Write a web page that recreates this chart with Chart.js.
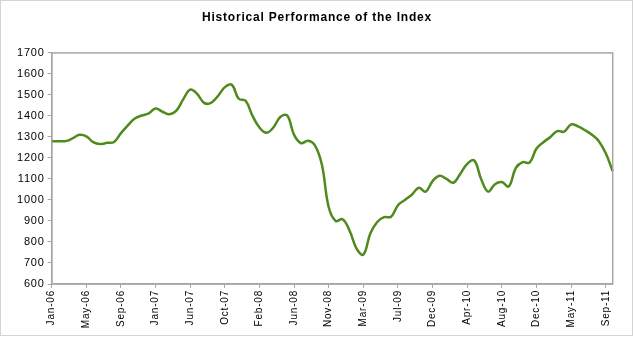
<!DOCTYPE html>
<html>
<head>
<meta charset="utf-8">
<script src="https://cdn.jsdelivr.net/npm/chart.js@4/dist/chart.umd.min.js"></script>
<style>
    html, body { margin: 0; padding: 0; background: #fff; }
    #frame {
        position: absolute; left: 0; top: 0;
        width: 631px; height: 334px;
        border: 1px solid #d4d4d4;
    }
    #wrap { position: absolute; left: 0; top: 0; width: 634px; height: 341px; }
</style>
</head>
<body>
<div id="frame"></div>
<div id="wrap"><canvas id="indexChart" width="634" height="341"></canvas></div>
<script>
// tick labels (one every 5 points)
const tickLabels = ['Jan-06', 'May-06', 'Sep-06', 'Jan-07', 'Jun-07', 'Oct-07', 'Feb-08', 'Jun-08',
    'Nov-08', 'Mar-09', 'Jul-09', 'Dec-09', 'Apr-10', 'Aug-10', 'Dec-10', 'May-11', 'Sep-11'];
const pointsPerTick = 5;

// index level
const indexValues = [
    1280, 1280, 1280, 1293, 1310, 1303, 1275, 1266, 1272, 1276,
    1318, 1355, 1388, 1402, 1412, 1435, 1420, 1408, 1425, 1480,
    1525, 1505, 1462, 1462, 1495, 1537, 1548, 1482, 1472, 1400,
    1345, 1320, 1345, 1395, 1402, 1310, 1270, 1282, 1260, 1170,
    965, 900, 908, 855, 770, 740, 840, 895, 918, 920,
    975, 1000, 1025, 1058, 1040, 1090, 1115, 1100, 1082, 1125,
    1172, 1188, 1100, 1040, 1075, 1085, 1065, 1152, 1180, 1178,
    1245, 1275, 1300, 1328, 1325, 1360, 1350, 1332, 1310, 1280,
    1222, 1137
];

const labels = indexValues.map((v, i) => i % pointsPerTick === 0 ? (tickLabels[i / pointsPerTick] || '') : '');

// 글자 간격 (원본처럼 약간 넓게)
const letterSpacing = {
    id: 'letterSpacing',
    beforeDraw(chart) {
        chart.ctx.letterSpacing = '0.8px';
    }
};

// 플롯 영역 테두리
const plotBorder = {
    id: 'plotBorder',
    afterDraw(chart) {
        const a = chart.chartArea;
        const c = chart.ctx;
        c.save();
        c.strokeStyle = '#a6a6a6';
        c.lineWidth = 1.5;
        c.strokeRect(a.left, a.top, a.right - a.left, a.bottom - a.top);
        c.restore();
    }
};

const font = "'Liberation Sans', Arial, sans-serif";

new Chart(document.getElementById('indexChart'), {
    type: 'line',
    data: {
        labels,
        datasets: [{
            label: 'Index',
            data: indexValues,
            borderColor: '#4f8a1c',
            borderWidth: 2.5,
            pointRadius: 0,
            tension: 0.4,
            fill: false
        }]
    },
    options: {
        responsive: false,
        animation: false,
        layout: { padding: { left: 0, right: 0, top: 0.5, bottom: 0 } },
        scales: {
            x: {
                grid: { drawOnChartArea: false, tickLength: 4, color: '#a6a6a6' },
                border: { color: '#a6a6a6', width: 1.5 },
                ticks: {
                    autoSkip: false,
                    maxRotation: 90,
                    minRotation: 90,
                    padding: 2,
                    color: '#000',
                    font: { family: font, size: 10 },
                    callback: (value, index) => index % pointsPerTick === 0 ? tickLabels[index / pointsPerTick] : null
                },
                afterFit: (scale) => { scale.height = 57; }
            },
            y: {
                min: 600,
                max: 1700,
                grid: { drawOnChartArea: false, tickLength: 4, color: '#a6a6a6' },
                border: { color: '#a6a6a6', width: 1.5 },
                ticks: {
                    stepSize: 100,
                    padding: 3,
                    color: '#000',
                    font: { family: font, size: 11 },
                    callback: (value) => String(value)
                },
                afterFit: (scale) => { scale.width = 51.7; }
            },
            // 오른쪽 여백용 빈 축
            yRight: {
                position: 'right',
                grid: { display: false },
                border: { display: false },
                ticks: { display: false },
                afterFit: (scale) => { scale.width = 21.3; }
            }
        },
        plugins: {
            legend: { display: false },
            tooltip: { enabled: false },
            title: {
                display: true,
                text: 'Historical Performance of the Index',
                color: '#000',
                font: { family: font, size: 12, weight: 'bold' },
                padding: { top: 10, bottom: 28 }
            }
        }
    },
    plugins: [letterSpacing, plotBorder]
});
</script>
</body>
</html>
